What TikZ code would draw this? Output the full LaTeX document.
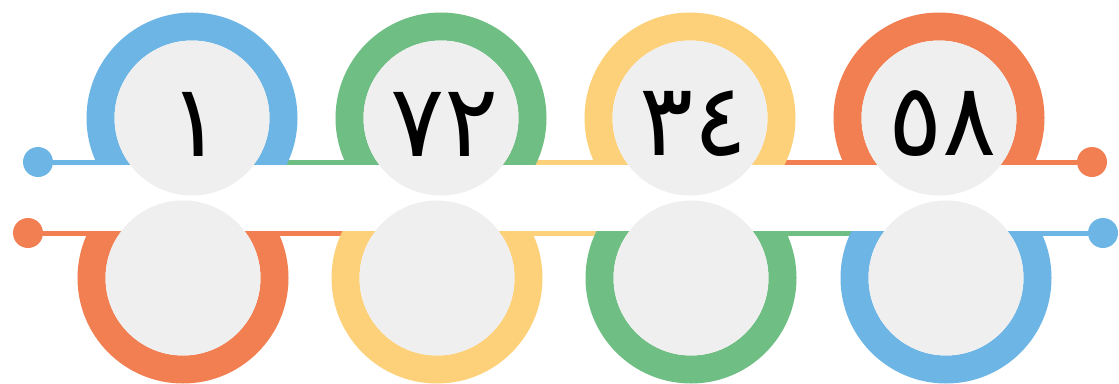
\documentclass[tikz,border=0pt]{standalone}
\usepackage{xcolor}
\usepackage{tikz}
\usepackage{fontspec}
\usetikzlibrary{backgrounds}
\newfontfamily\arabicfont[Script=Arabic]{DejaVu Sans}
\TeXXeTstate=1
\definecolor{ringblue}{RGB}{108,181,229}
\definecolor{ringgreen}{RGB}{111,190,131}
\definecolor{ringyellow}{RGB}{253,209,122}
\definecolor{ringorange}{RGB}{242,127,82}
\definecolor{discgray}{RGB}{239,239,239}

\begin{document}
\begin{tikzpicture}[x=1pt,y=-1pt]
          \tikzstyle{ring}=[circle, inner sep=0pt, minimum size=183pt, line width=28pt]
          \tikzstyle{disc}=[circle, inner sep=0pt, minimum size=155pt, fill=discgray]
          \tikzstyle{dot}=[circle, inner sep=0pt, minimum size=30pt]
          \tikzstyle{bar}=[line width=5pt]
          \tikzstyle{num}=[inner sep=0pt, font=\arabicfont\fontsize{101}{101}\selectfont]
          \useasboundingbox (0,0) rectangle (1119,383);
          % top row
          \node[ring, draw=ringblue] (T1) at (192,118) {};
          \node[ring, draw=ringgreen] (T2) at (441,118) {};
          \node[ring, draw=ringyellow] (T3) at (690,118) {};
          \node[ring, draw=ringorange] (T4) at (939,118) {};
          % bottom row
          \node[ring, draw=ringorange] (B1) at (183,278) {};
          \node[ring, draw=ringyellow] (B2) at (437,278) {};
          \node[ring, draw=ringgreen] (B3) at (691,278) {};
          \node[ring, draw=ringblue] (B4) at (946,278) {};
          % gap between the two lines
          \fill[white] (0,164.5) rectangle (1119,230.5);
          \node[dot, fill=ringblue] (DotTL) at (38,162) {};
          \node[dot, fill=ringorange] (DotTR) at (1092,162) {};
          \node[dot, fill=ringorange] (DotBL) at (28,233) {};
          \node[dot, fill=ringblue] (DotBR) at (1103,233) {};
          \node[disc] (G1) at (T1) {};
          \node[disc] (G2) at (T2) {};
          \node[disc] (G3) at (T3) {};
          \node[disc] (G4) at (T4) {};
          \node[disc] (H1) at (B1) {};
          \node[disc] (H2) at (B2) {};
          \node[disc] (H3) at (B3) {};
          \node[disc] (H4) at (B4) {};
          \node[num] (N1) at ([shift={(4,6)}]G1.center) {\beginR ١\endR};
          \node[num] (N2) at ([shift={(4,6)}]G2.center) {\beginR ٧٢\endR};
          \node[num] (N3) at ([shift={(4,6)}]G3.center) {\beginR ٣٤\endR};
          \node[num] (N4) at ([shift={(4,6)}]G4.center) {\beginR ٥٨\endR};
          \begin{scope}[on background layer]
            \draw[bar, ringblue] (DotTL) -- (DotTL -| T1);
            \draw[bar, ringgreen] (DotTL -| T1) -- (DotTL -| T2);
            \draw[bar, ringyellow] (DotTL -| T2) -- (DotTL -| T3);
            \draw[bar, ringorange] (DotTL -| T3) -- (DotTR);
            \draw[bar, ringorange] (DotBL) -- (DotBL -| B2);
            \draw[bar, ringyellow] (DotBL -| B2) -- (DotBL -| B3);
            \draw[bar, ringgreen] (DotBL -| B3) -- (DotBL -| B4);
            \draw[bar, ringblue] (DotBL -| B4) -- (DotBR);
          \end{scope}
        \end{tikzpicture}
\end{document}
